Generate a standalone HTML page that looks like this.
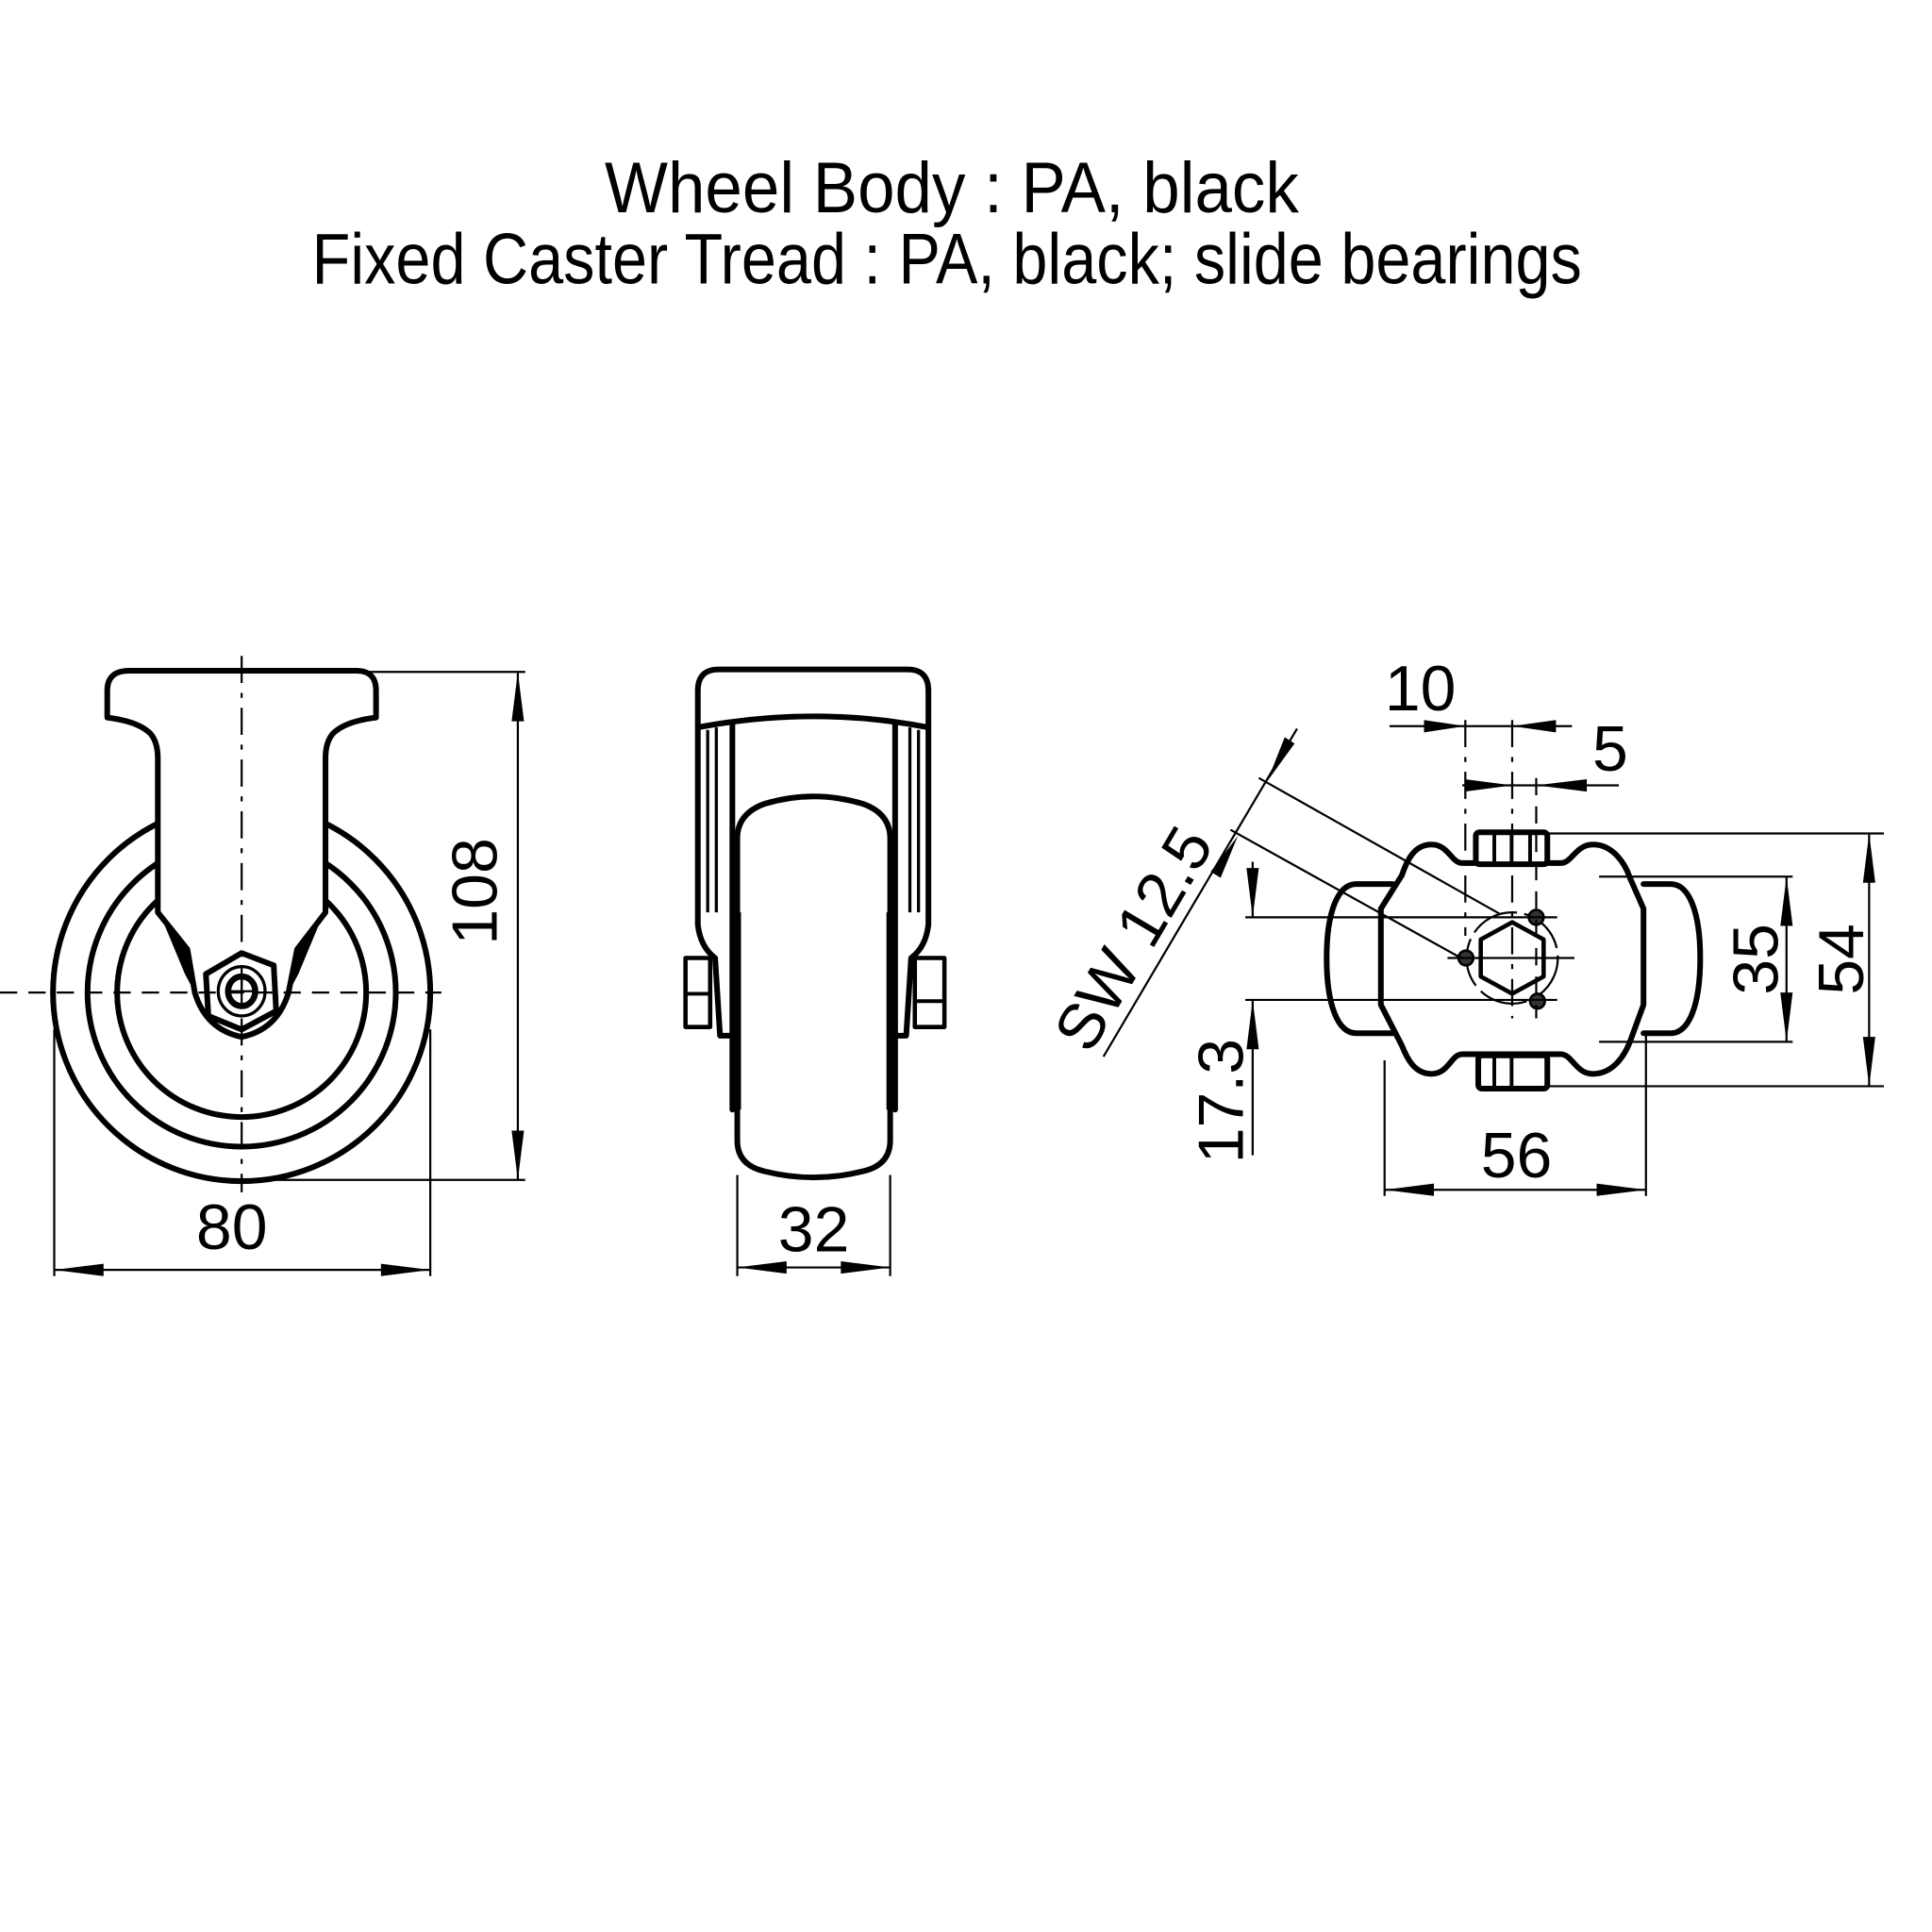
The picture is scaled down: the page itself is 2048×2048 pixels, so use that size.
<!DOCTYPE html>
<html><head><meta charset="utf-8"><style>html,body{margin:0;padding:0;background:#fff}svg{display:block}</style></head>
<body>
<svg xmlns="http://www.w3.org/2000/svg" width="2048" height="2048" viewBox="0 0 1567 1567">
<defs>
<style>
.t{font-family:"Liberation Sans",sans-serif;fill:#000}
.k{fill:none;stroke:#000;stroke-width:4.6;stroke-linejoin:round;stroke-linecap:round}
.w{fill:#fff;stroke:#000;stroke-width:4.6;stroke-linejoin:round}
.n{fill:none;stroke:#000;stroke-width:1.7}
.dd{fill:none;stroke:#000;stroke-width:1.7;stroke-dasharray:22 8 4 8}
.ds{fill:none;stroke:#000;stroke-width:1.7;stroke-dasharray:14 9}
.a{fill:#000}
</style>
</defs>
<rect width="1567" height="1567" fill="#fff"/>
<text class="t" x="772" y="172" font-size="58" text-anchor="middle" textLength="563" lengthAdjust="spacingAndGlyphs">Wheel Body : PA, black</text>
<text class="t" x="768" y="230" font-size="58" text-anchor="middle" textLength="1030" lengthAdjust="spacingAndGlyphs">Fixed Caster Tread : PA, black; slide bearings</text>

<!-- LEFT VIEW -->
<circle class="k" cx="196" cy="805" r="153"/>
<circle class="k" cx="196" cy="805" r="125"/>
<circle class="k" cx="196" cy="805" r="101"/>
<path class="w" d="M105,544 L289,544 Q305,544 305,560 L305,582 Q280,585 270,595 Q264,602 264,615 L264,740 L241,770 L234,805 Q225,835 196,841 Q167,835 158,805 L152,770 L128,740 L128,615 Q128,602 122,595 Q112,585 87,582 L87,560 Q87,544 105,544 Z"/>
<path class="a" d="M130,742 L152,770 L158,805 L150,790 Z M262,742 L241,770 L234,805 L242,790 Z"/>
<polygon class="w" points="196,773 222,783 224,820 196,835 169,824 167,790" />
<ellipse class="k" cx="196" cy="804" rx="19" ry="20" style="stroke-width:2.5"/>
<ellipse class="k" cx="196" cy="804" rx="11" ry="12" style="stroke-width:5"/>
<line class="n" x1="186" y1="804" x2="206" y2="804"/><line class="n" x1="196" y1="794" x2="196" y2="814"/>
<line class="dd" x1="196" y1="532" x2="196" y2="967"/>
<line class="ds" x1="0" y1="805" x2="358" y2="805"/>
<!-- 108 -->
<line class="n" x1="297" y1="545" x2="426" y2="545"/>
<line class="n" x1="215" y1="957" x2="426" y2="957"/>
<line class="n" x1="420" y1="545" x2="420" y2="957"/>
<polygon class="a" points="420,545 415,585 425,585"/>
<polygon class="a" points="420,957 415,917 425,917"/>
<text class="t" font-size="52" text-anchor="middle" transform="translate(403,723) rotate(-90)">108</text>
<!-- 80 -->
<line class="n" x1="44" y1="835" x2="44" y2="1035"/>
<line class="n" x1="349" y1="835" x2="349" y2="1035"/>
<line class="n" x1="44" y1="1030" x2="349" y2="1030"/>
<polygon class="a" points="44,1030 84,1025 84,1035"/>
<polygon class="a" points="349,1030 309,1025 309,1035"/>
<text class="t" x="188" y="1013" font-size="52" text-anchor="middle">80</text>

<!-- MIDDLE VIEW -->
<path class="k" d="M566,590 L566,560 Q566,543 583,543 L736,543 Q753,543 753,560 L753,590 Q660,572 566,590 Z"/>
<path class="k" d="M566,590 L566,750 Q568,768 580,777 L584,840 L594,840"/>
<path class="k" d="M753,590 L753,750 Q751,768 739,777 L735,840 L726,840"/>
<path class="n" d="M574,592 L574,740 M581,590 L581,740 M745,592 L745,740 M738,590 L738,740" style="stroke-width:2.5"/>
<path class="k" d="M594,588 L594,900 M726,588 L726,900"/>
<path class="w" d="M598,680 Q598,660 620,652 Q660,640 700,652 Q722,660 722,680 L722,925 Q722,945 700,950 Q660,960 620,950 Q598,945 598,925 Z"/>
<path class="a" d="M593,740 L601,740 L601,900 L593,900 Z M719,740 L727,740 L727,900 L719,900 Z"/>
<rect class="k" x="556" y="777" width="20" height="56" style="stroke-width:3.5"/>
<line class="k" x1="556" y1="806" x2="576" y2="806" style="stroke-width:3"/>
<rect class="k" x="742" y="777" width="24" height="56" style="stroke-width:3.5"/>
<line class="k" x1="742" y1="812" x2="766" y2="812" style="stroke-width:3"/>
<!-- 32 -->
<line class="n" x1="598" y1="953" x2="598" y2="1035"/>
<line class="n" x1="722" y1="953" x2="722" y2="1035"/>
<line class="n" x1="598" y1="1028" x2="722" y2="1028"/>
<polygon class="a" points="598,1028 638,1023 638,1033"/>
<polygon class="a" points="722,1028 682,1023 682,1033"/>
<text class="t" x="660" y="1015" font-size="52" text-anchor="middle">32</text>

<!-- RIGHT VIEW -->
<path class="k" d="M1130,717 L1100,717 C1085,717 1076,740 1076,777 C1076,815 1085,838 1100,838 L1130,838"/>
<path class="k" d="M1333,717 L1355,717 C1370,717 1379,740 1379,777 C1379,815 1370,838 1355,838 L1333,838"/>
<path class="w" d="M1186,700 L1266,700 C1275,700 1278,685 1292,685 C1308,685 1318,700 1322,712 L1333,737 L1333,815 L1322,845 C1316,860 1306,871 1292,871 C1278,871 1275,855 1266,855 L1186,855 C1177,855 1175,871 1161,871 C1147,871 1141,858 1137,848 L1120,815 L1120,737 L1137,710 C1141,698 1147,685 1161,685 C1175,685 1177,700 1186,700 Z"/>
<rect class="w" x="1197" y="675" width="58" height="26" rx="3"/>
<path class="k" d="M1212,677 L1212,700 M1226,677 L1226,700 M1241,677 L1241,700" style="stroke-width:3"/>
<rect class="w" x="1199" y="856" width="56" height="27" rx="3"/>
<path class="k" d="M1212,858 L1212,882 M1226,858 L1226,882" style="stroke-width:3"/>
<!-- centre features -->
<circle class="n" cx="1226.5" cy="777" r="37" stroke-dasharray="40 6"/>
<polygon class="k" points="1226.5,748 1252,762 1252,792 1226.5,806 1201,792 1201,762" style="stroke-width:3.5"/>
<circle cx="1246" cy="744" r="6" fill="#333" stroke="#000" stroke-width="2"/>
<circle cx="1189" cy="777" r="6" fill="#333" stroke="#000" stroke-width="2"/>
<circle cx="1247" cy="812" r="6" fill="#333" stroke="#000" stroke-width="2"/>
<line class="n" x1="1174" y1="777" x2="1277" y2="777"/>
<line class="dd" x1="1226.5" y1="584" x2="1226.5" y2="826"/>
<line class="dd" x1="1188.5" y1="584" x2="1188.5" y2="759"/>
<line class="ds" x1="1246" y1="631" x2="1246" y2="826"/>
<!-- 10 -->
<line class="n" x1="1127" y1="589" x2="1275" y2="589"/>
<polygon class="a" points="1188.5,589 1155,584 1155,594"/>
<polygon class="a" points="1226.5,589 1262,584 1262,594"/>
<text class="t" x="1152" y="576" font-size="52" text-anchor="middle">10</text>
<!-- 5 -->
<line class="n" x1="1186" y1="637" x2="1313" y2="637"/>
<polygon class="a" points="1226.5,637 1188,632 1188,642"/>
<polygon class="a" points="1246,637 1287,632 1287,642"/>
<text class="t" x="1306" y="625" font-size="52" text-anchor="middle">5</text>
<!-- 17.3 -->
<line class="n" x1="1010" y1="744" x2="1263" y2="744"/>
<line class="n" x1="1010" y1="811" x2="1263" y2="811"/>
<line class="n" x1="1016" y1="699" x2="1016" y2="744"/>
<line class="n" x1="1016" y1="811" x2="1016" y2="937"/>
<polygon class="a" points="1016,744 1011,704 1021,704"/>
<polygon class="a" points="1016,811 1011,851 1021,851"/>
<text class="t" font-size="52" text-anchor="middle" transform="translate(1008,893) rotate(-90)">17.3</text>
<!-- 35 -->
<line class="n" x1="1297" y1="711" x2="1454" y2="711"/>
<line class="n" x1="1297" y1="845" x2="1454" y2="845"/>
<line class="n" x1="1449" y1="711" x2="1449" y2="845"/>
<polygon class="a" points="1449,711 1444,751 1454,751"/>
<polygon class="a" points="1449,845 1444,805 1454,805"/>
<text class="t" font-size="52" text-anchor="middle" transform="translate(1442,778) rotate(-90)">35</text>
<!-- 54 -->
<line class="n" x1="1255" y1="676" x2="1528" y2="676"/>
<line class="n" x1="1255" y1="881" x2="1528" y2="881"/>
<line class="n" x1="1516" y1="676" x2="1516" y2="881"/>
<polygon class="a" points="1516,676 1511,716 1521,716"/>
<polygon class="a" points="1516,881 1511,841 1521,841"/>
<text class="t" font-size="52" text-anchor="middle" transform="translate(1511,778) rotate(-90)">54</text>
<!-- 56 -->
<line class="n" x1="1123" y1="860" x2="1123" y2="970"/>
<line class="n" x1="1335" y1="840" x2="1335" y2="970"/>
<line class="n" x1="1123" y1="965" x2="1335" y2="965"/>
<polygon class="a" points="1123,965 1163,960 1163,970"/>
<polygon class="a" points="1335,965 1295,960 1295,970"/>
<text class="t" x="1230" y="955" font-size="52" text-anchor="middle">56</text>
<!-- SW 12.5 -->
<line class="n" x1="1052" y1="591" x2="895" y2="857"/>
<line class="n" x1="1021" y1="631" x2="1216" y2="741"/>
<line class="n" x1="998" y1="673" x2="1185" y2="777"/>
<polygon class="a" points="1027.8,633.7 1042,598 1050,603"/>
<polygon class="a" points="1004,678 990,712 982,707"/>
<text class="t" font-size="52" text-anchor="middle" transform="translate(919,761) rotate(-59.4)" dy="0.35em">SW 12.5</text>
</svg>
</body></html>
